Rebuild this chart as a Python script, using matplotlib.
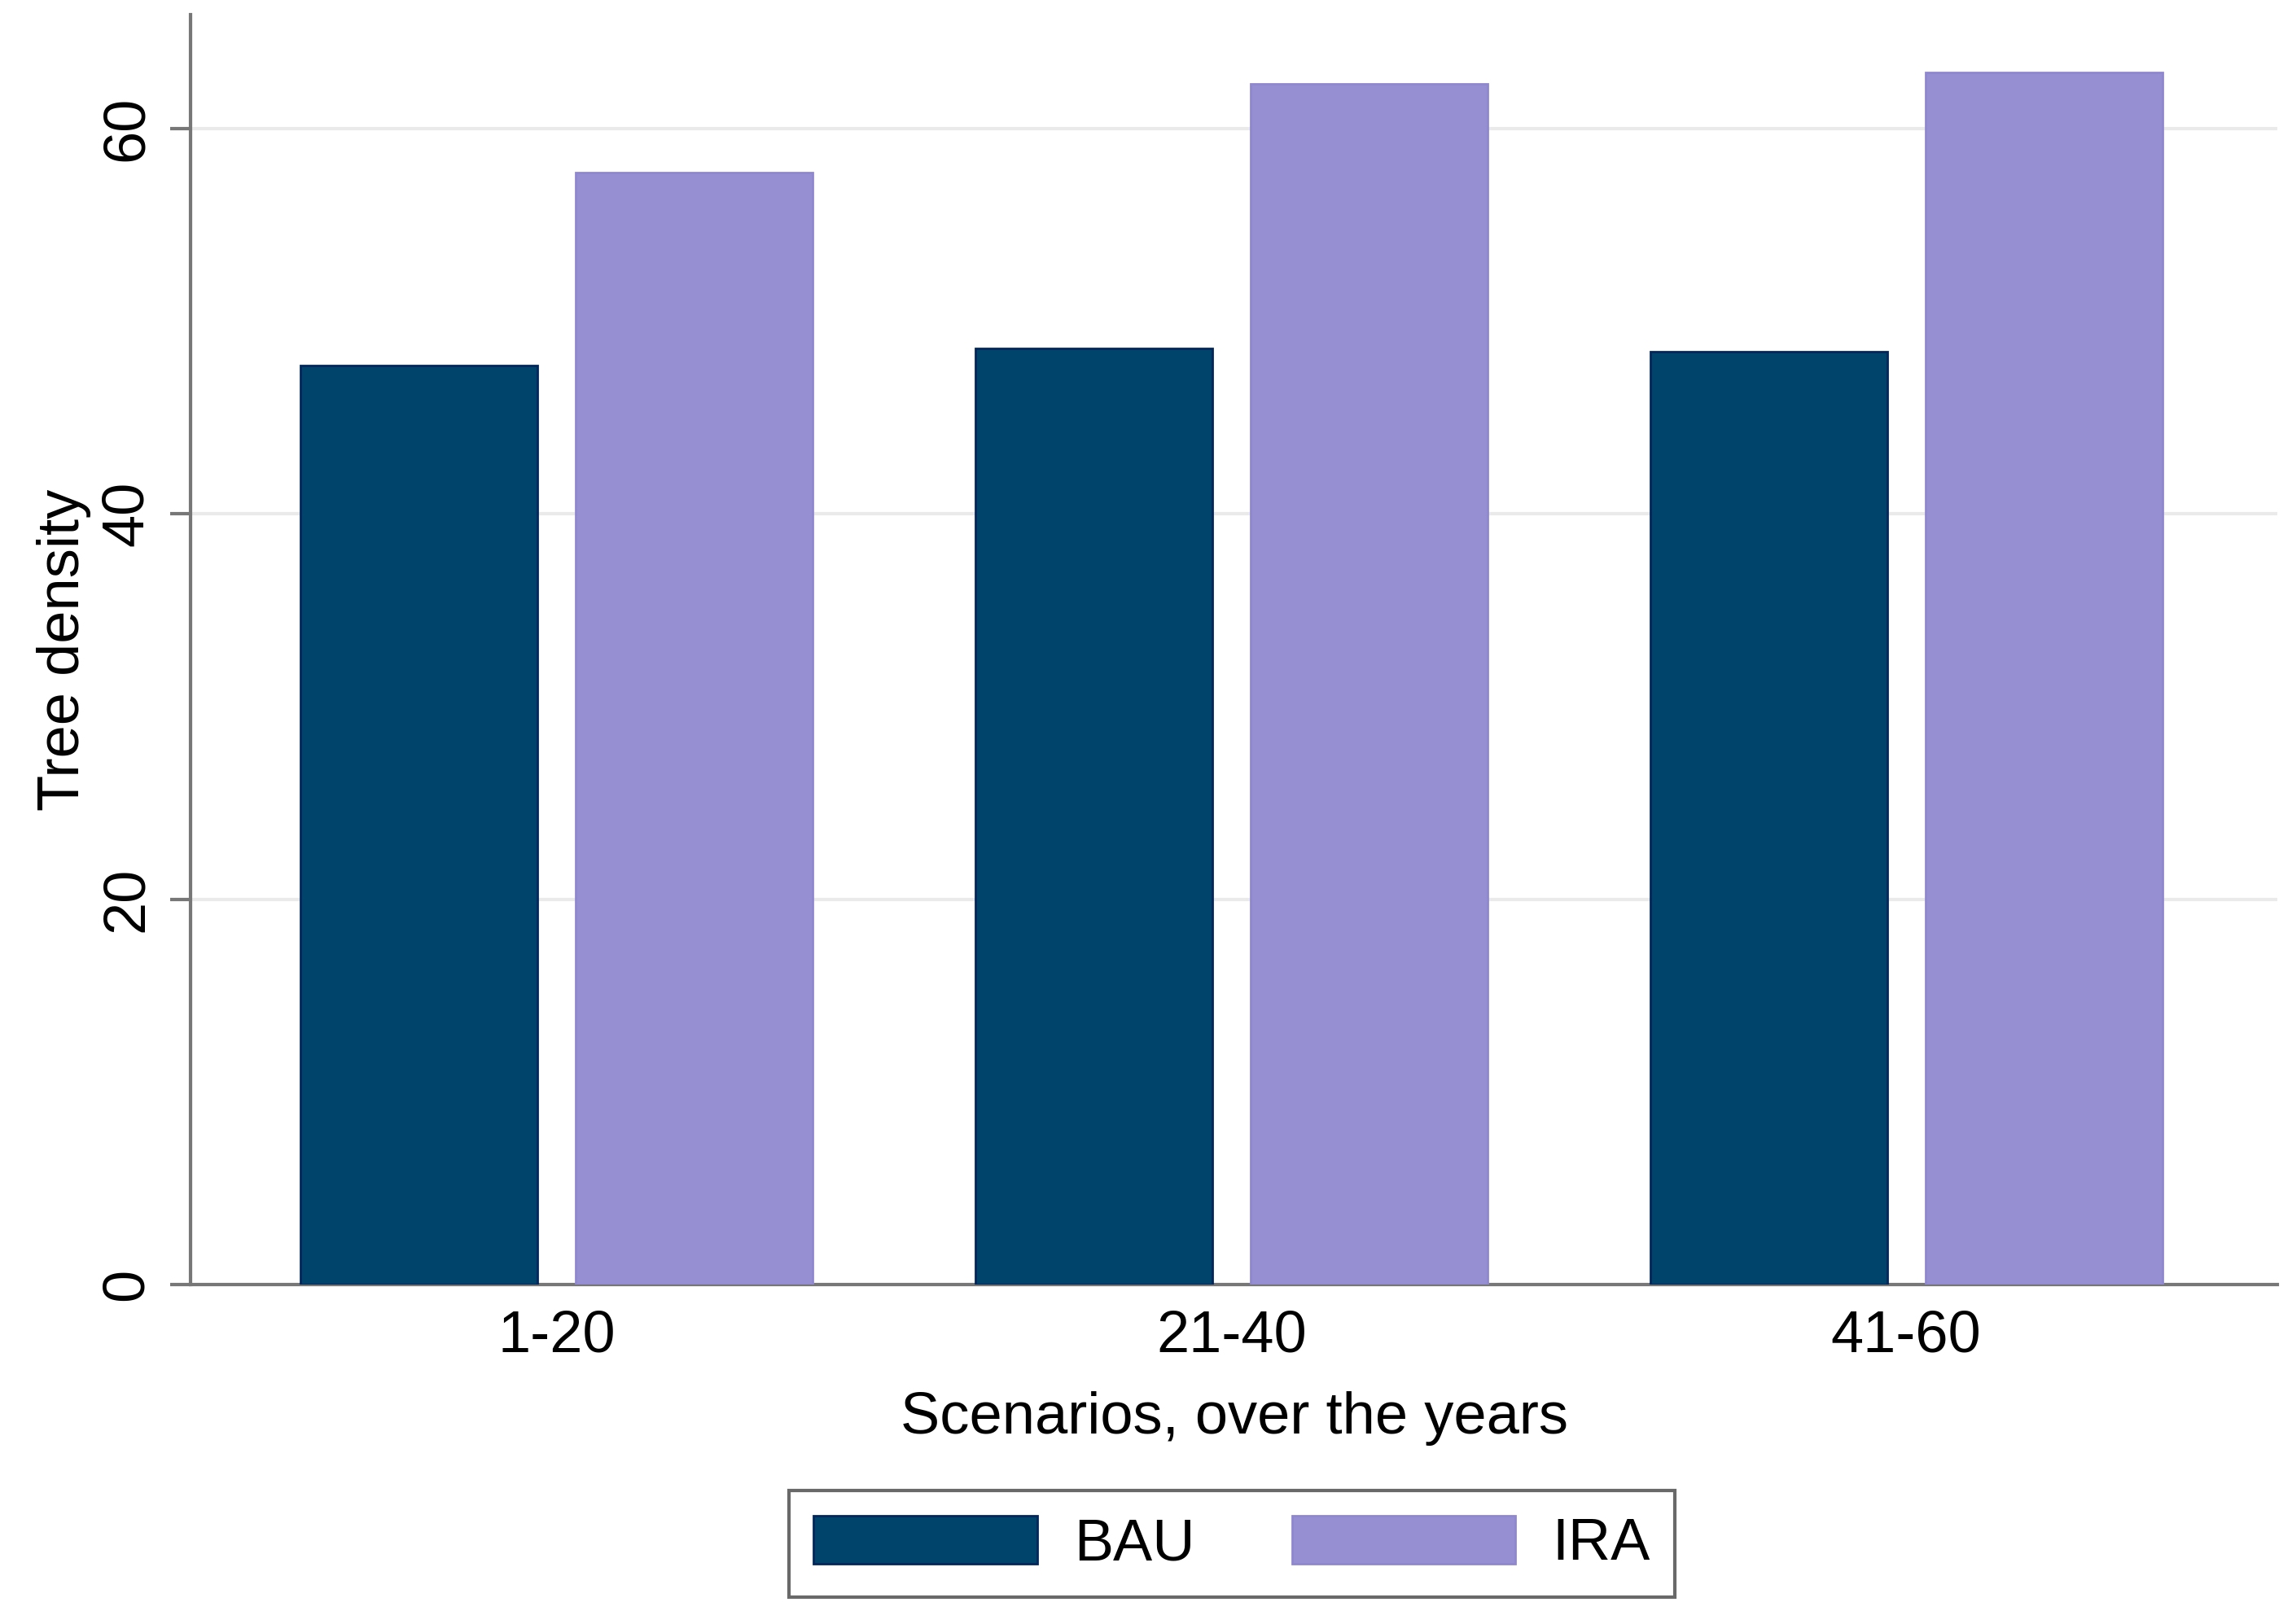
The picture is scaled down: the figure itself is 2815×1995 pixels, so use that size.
import numpy as np
import matplotlib
matplotlib.use("Agg")
import matplotlib.pyplot as plt

plt.rcParams['font.family'] = ['Liberation Sans', 'DejaVu Sans']

categories = ['1-20', '21-40', '41-60']
series_names = ['BAU', 'IRA']
bau = [47.7, 48.6, 48.4]
ira = [57.7, 62.3, 62.9]
yticks = [0, 20, 40, 60]

colors = ['#01446B', '#968FD1']
edges = ['#02265A', '#8F88CF']

fs = 52
fig = plt.figure(figsize=(28.15, 19.95), dpi=100)
ax = fig.add_axes([0.0833, 0.209, 0.9103, 0.782])

x = np.arange(len(categories))
bar_width = 0.351
offset = 0.204
ax.bar(x - offset, bau, width=bar_width, color=colors[0], edgecolor=edges[0], linewidth=2, label=series_names[0], zorder=3)
ax.bar(x + offset, ira, width=bar_width, color=colors[1], edgecolor=edges[1], linewidth=2, label=series_names[1], zorder=3)

ax.set_xlim(-0.542, 2.55)
ax.set_ylim(0, 65.9)
ax.set_yticks(yticks)
ax.set_yticklabels([str(t) for t in yticks], rotation=90, va='center', fontsize=fs)
ax.set_xticks(x)
ax.set_xticklabels(categories, fontsize=fs)
ax.tick_params(axis='x', length=0, pad=22)
ax.tick_params(axis='y', length=18, width=3, color='#777777', pad=14)

for t in yticks[1:]:
    ax.axhline(t, color='#EAEAEA', linewidth=3, zorder=1)

for side in ['top', 'right']:
    ax.spines[side].set_visible(False)
for side in ['left', 'bottom']:
    ax.spines[side].set_color('#777777')
    ax.spines[side].set_linewidth(3)

ax.set_xlabel('Scenarios, over the years', fontsize=fs, labelpad=24)
ax.set_ylabel('Tree density', fontsize=fs, labelpad=8)

leg = fig.legend(loc='center', bbox_to_anchor=(0.5375, 0.0494), ncol=2, fontsize=fs,
                 frameon=True, fancybox=False, edgecolor='#444444',
                 handlelength=3.8, handleheight=0.9, handletextpad=0.63,
                 columnspacing=1.65, borderpad=0.42)
leg.get_frame().set_linewidth(3)

fig.savefig('out.png', dpi=100, facecolor='white')
